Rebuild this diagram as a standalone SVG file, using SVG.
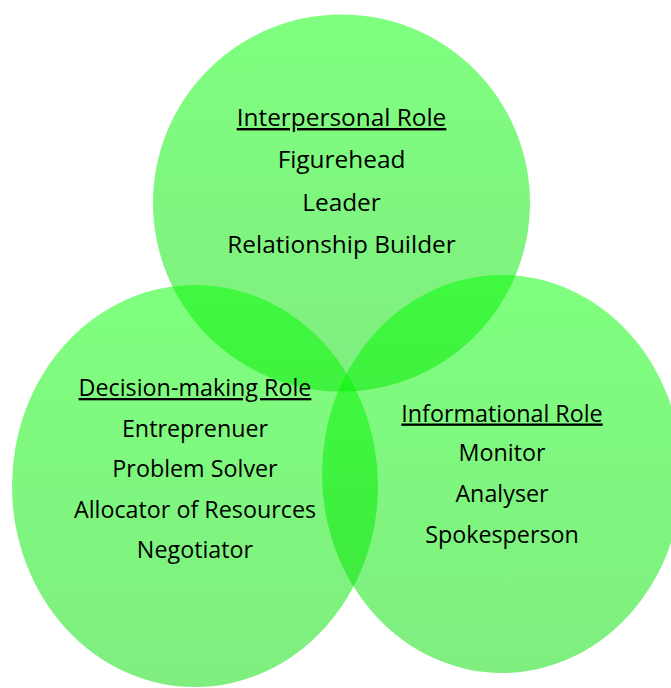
<svg xmlns="http://www.w3.org/2000/svg" width="671" height="688" viewBox="0 0 671 688">
  <defs>
    <linearGradient id="g-fill" x1="0" y1="0" x2="0" y2="1">
      <stop offset="0" stop-color="#00ff00"/>
      <stop offset="1" stop-color="#00dd00"/>
    </linearGradient>
    <style>
      .ring { fill: url(#g-fill); fill-opacity: 0.5; }
      .lbl { font-family: "Open Sans", "Liberation Sans", sans-serif; font-size: 23.3px; fill: #000; text-anchor: middle; }
      .big { font-size: 24.4px; }
      .head { text-decoration: underline; }
    </style>
  </defs>

  <g id="interpersonal">
    <circle class="ring" cx="341.5" cy="203" r="188.5"/>
  </g>
  <g id="decision-making">
    <ellipse class="ring" cx="195" cy="486" rx="183" ry="201"/>
  </g>
  <g id="informational">
    <ellipse class="ring" cx="502" cy="474" rx="180" ry="199"/>
  </g>

  <g id="interpersonal-text" class="lbl big">
    <text class="head" x="341.5" y="126">Interpersonal Role</text>
    <text x="341.5" y="168">Figurehead</text>
    <text x="341.5" y="210.5">Leader</text>
    <text x="341.5" y="253">Relationship Builder</text>
  </g>
  <g id="decision-making-text" class="lbl">
    <text class="head" x="195" y="396">Decision-making Role</text>
    <text x="195" y="437">Entreprenuer</text>
    <text x="195" y="477">Problem Solver</text>
    <text x="195" y="518">Allocator of Resources</text>
    <text x="195" y="558">Negotiator</text>
  </g>
  <g id="informational-text" class="lbl">
    <text class="head" x="502" y="421.5">Informational Role</text>
    <text x="502" y="461">Monitor</text>
    <text x="502" y="502">Analyser</text>
    <text x="502" y="543">Spokesperson</text>
  </g>

  <g id="connectors"/>
</svg>
